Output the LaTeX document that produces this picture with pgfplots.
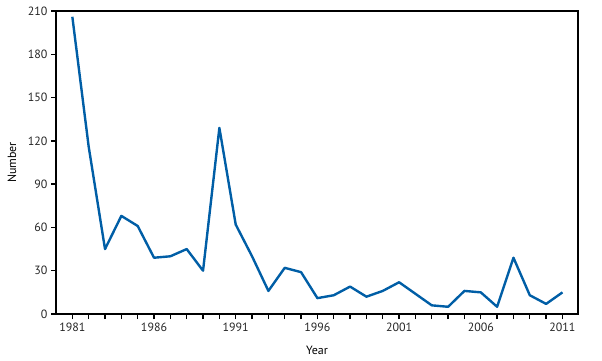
\documentclass[border=0pt]{standalone}
\usepackage{pgfplots}
\pgfplotsset{compat=1.18}
\usepackage{fontspec}
\setmainfont{PT Sans}
\definecolor{lineblue}{RGB}{0,94,166}
\begin{document}
\begin{tikzpicture}
\path[use as bounding box] (-56bp,-47bp) rectangle (546bp,314bp);
\begin{axis}[
  at={(0,0)}, anchor=origin,
  scale only axis,
  width=522bp, height=303bp,
  xmin=1980, xmax=2011.95,
  ymin=0, ymax=210,
  xtick={1981,1986,1991,1996,2001,2006,2011},
  minor xtick={1981,...,2011},
  ytick={0,30,60,90,120,150,180,210},
  xtick pos=bottom, ytick pos=left,
  tick align=outside,
  major tick length=5bp, minor tick length=5bp,
  every tick/.style={black, line width=1.4pt},
  axis line style={black, line width=2pt},
  /pgf/number format/1000 sep={},
  /pgf/number format/assume math mode=true,
  tick label style={font=\fontsize{12}{14}\selectfont, text=black!85},
  xlabel={Year}, ylabel={Number},
  label style={font=\fontsize{12}{14}\selectfont},
  xlabel style={at={(axis description cs:0.5,-0.1188)}, anchor=center},
  ylabel style={at={(axis description cs:-0.0843,0.5)}, anchor=center},
  clip=false,
]
\addplot[lineblue, line width=2.4pt, line join=round] coordinates {
(1981,206) (1982,116) (1983,45) (1984,68) (1985,61) (1986,39) (1987,40)
(1988,45) (1989,30) (1990,129) (1991,62) (1992,40) (1993,16) (1994,32)
(1995,29) (1996,11) (1997,13) (1998,19) (1999,12) (2000,16) (2001,22)
(2002,14) (2003,6) (2004,5) (2005,16) (2006,15) (2007,5) (2008,39)
(2009,13) (2010,7) (2011,15)
};
\end{axis}
\end{tikzpicture}
\end{document}
